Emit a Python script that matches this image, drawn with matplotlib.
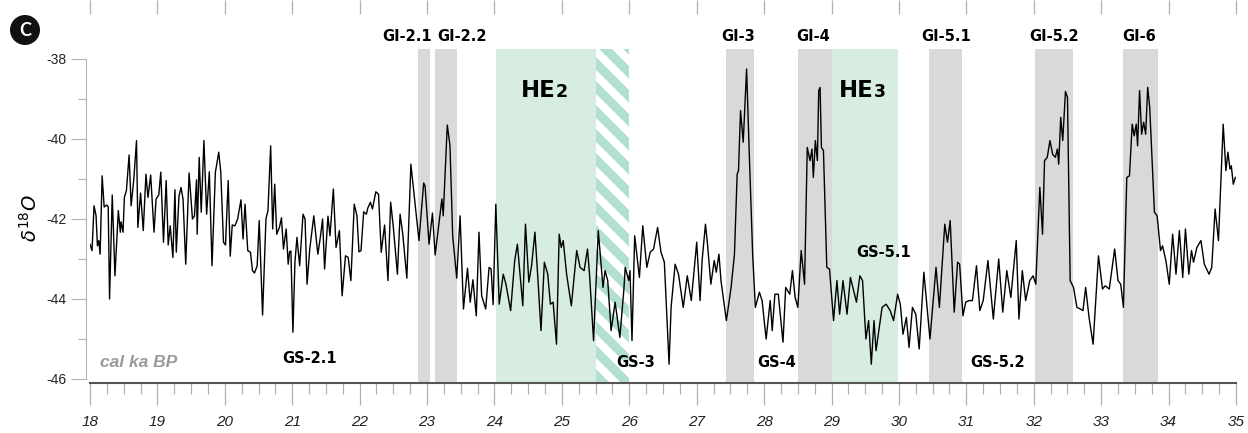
import numpy as np
import matplotlib
matplotlib.use("Agg")
import matplotlib.pyplot as plt
from matplotlib.patches import Rectangle, Circle
from matplotlib.ticker import MultipleLocator
from matplotlib.transforms import IdentityTransform

plt.rcParams["axes.unicode_minus"] = False

# age (cal ka BP) and d18O
age_ka = [
    18.00, 18.03, 18.06, 18.09, 18.11, 18.13, 18.15, 18.18, 18.21, 18.25,
    18.27, 18.29, 18.33, 18.37, 18.42, 18.45, 18.46, 18.49, 18.51, 18.54,
    18.58, 18.61, 18.65, 18.69, 18.71, 18.75, 18.79, 18.83, 18.86, 18.90,
    18.95, 18.98, 19.02, 19.05, 19.09, 19.13, 19.16, 19.19, 19.23, 19.26,
    19.28, 19.32, 19.35, 19.38, 19.42, 19.47, 19.52, 19.55, 19.58, 19.59,
    19.62, 19.65, 19.69, 19.73, 19.77, 19.81, 19.86, 19.91, 19.94, 19.98,
    20.01, 20.05, 20.08, 20.11, 20.15, 20.19, 20.24, 20.27, 20.30, 20.34,
    20.38, 20.41, 20.44, 20.48, 20.51, 20.56, 20.61, 20.64, 20.68, 20.71,
    20.74, 20.77, 20.81, 20.84, 20.87, 20.91, 20.94, 20.96, 20.98, 21.01,
    21.04, 21.07, 21.11, 21.16, 21.19, 21.22, 21.26, 21.32, 21.38, 21.42,
    21.45, 21.48, 21.53, 21.56, 21.61, 21.65, 21.70, 21.74, 21.79, 21.83,
    21.87, 21.92, 21.96, 21.99, 22.02, 22.06, 22.10, 22.12, 22.16, 22.19,
    22.24, 22.28, 22.32, 22.37, 22.42, 22.46, 22.50, 22.56, 22.60, 22.64,
    22.70, 22.76, 22.82, 22.88, 22.95, 22.97, 23.03, 23.08, 23.12, 23.22,
    23.24, 23.30, 23.34, 23.38, 23.44, 23.49, 23.54, 23.60, 23.64, 23.68,
    23.73, 23.77, 23.81, 23.87, 23.92, 23.95, 23.98, 24.02, 24.07, 24.13,
    24.17, 24.24, 24.30, 24.34, 24.37, 24.42, 24.46, 24.51, 24.55, 24.60,
    24.64, 24.69, 24.74, 24.79, 24.83, 24.87, 24.92, 24.96, 24.99, 25.02,
    25.07, 25.14, 25.22, 25.27, 25.33, 25.38, 25.41, 25.47, 25.54, 25.61,
    25.64, 25.68, 25.73, 25.79, 25.86, 25.92, 25.94, 25.99, 26.01, 26.04,
    26.08, 26.15, 26.20, 26.26, 26.31, 26.36, 26.42, 26.47, 26.52, 26.56,
    26.59, 26.62, 26.68, 26.73, 26.80, 26.86, 26.92, 27.00, 27.05, 27.08,
    27.13, 27.16, 27.21, 27.26, 27.29, 27.33, 27.36, 27.44, 27.51, 27.56,
    27.60, 27.62, 27.65, 27.69, 27.74, 27.78, 27.83, 27.87, 27.93, 27.97,
    28.03, 28.09, 28.12, 28.16, 28.21, 28.28, 28.32, 28.38, 28.42, 28.46,
    28.50, 28.55, 28.60, 28.64, 28.68, 28.71, 28.73, 28.76, 28.79, 28.81,
    28.83, 28.85, 28.88, 28.93, 28.97, 29.03, 29.08, 29.12, 29.17, 29.23,
    29.28, 29.37, 29.42, 29.46, 29.51, 29.55, 29.59, 29.63, 29.66, 29.75,
    29.81, 29.87, 29.92, 29.98, 30.02, 30.06, 30.11, 30.15, 30.20, 30.25,
    30.30, 30.37, 30.46, 30.55, 30.60, 30.68, 30.72, 30.76, 30.82, 30.87,
    30.90, 30.95, 30.99, 31.04, 31.09, 31.15, 31.20, 31.25, 31.32, 31.40,
    31.48, 31.54, 31.60, 31.66, 31.74, 31.78, 31.83, 31.88, 31.94, 31.99,
    32.03, 32.09, 32.13, 32.16, 32.20, 32.24, 32.28, 32.32, 32.35, 32.37,
    32.40, 32.43, 32.47, 32.50, 32.54, 32.59, 32.64, 32.69, 32.73, 32.77,
    32.82, 32.88, 32.96, 33.02, 33.06, 33.12, 33.20, 33.25, 33.29, 33.33,
    33.38, 33.42, 33.46, 33.49, 33.52, 33.54, 33.57, 33.60, 33.63, 33.66,
    33.69, 33.72, 33.79, 33.83, 33.88, 33.91, 33.96, 34.01, 34.06, 34.11,
    34.16, 34.21, 34.25, 34.30, 34.34, 34.37, 34.42, 34.48, 34.53, 34.60,
    34.64, 34.69, 34.74, 34.81, 34.85, 34.88, 34.91, 34.93, 34.96, 34.99,
]
d18o = [
    -42.63, -42.79, -41.67, -41.92, -42.67, -42.54, -42.88, -40.92, -41.70, -41.65,
    -41.70, -44.00, -41.40, -43.42, -41.79, -42.33, -42.07, -42.33, -41.46, -41.29,
    -40.40, -41.67, -41.00, -40.04, -42.21, -41.35, -42.29, -40.88, -41.46, -40.90,
    -42.33, -41.50, -41.40, -40.83, -42.58, -41.04, -42.65, -42.17, -42.96, -41.27,
    -42.83, -41.43, -41.21, -41.50, -43.13, -40.85, -42.00, -41.92, -41.02, -42.38,
    -40.46, -41.83, -40.04, -41.88, -40.82, -43.17, -40.83, -40.33, -40.83, -42.58,
    -42.65, -41.04, -42.93, -42.15, -42.17, -42.00, -41.52, -42.50, -41.63, -42.79,
    -42.83, -43.29, -43.35, -43.17, -42.04, -44.40, -42.00, -41.79, -40.17, -42.25,
    -41.13, -42.38, -42.21, -41.97, -42.75, -42.25, -43.13, -42.82, -42.80, -44.83,
    -43.08, -42.46, -43.17, -41.88, -42.00, -43.63, -42.75, -41.92, -42.88, -42.42,
    -42.00, -43.25, -41.93, -42.42, -41.25, -42.71, -42.29, -43.92, -42.92, -42.96,
    -43.54, -41.63, -41.92, -42.82, -42.79, -41.82, -41.88, -41.73, -41.58, -41.75,
    -41.32, -41.38, -42.83, -42.15, -43.54, -41.58, -42.21, -43.38, -41.88, -42.38,
    -43.48, -40.63, -41.58, -42.54, -41.10, -41.17, -42.63, -41.85, -42.90, -41.50,
    -41.92, -39.65, -40.17, -42.42, -43.48, -41.92, -44.25, -43.23, -44.08, -43.52,
    -44.42, -42.33, -43.92, -44.25, -43.21, -43.25, -44.14, -41.63, -44.13, -43.38,
    -43.63, -44.29, -43.04, -42.63, -43.21, -44.17, -42.13, -43.58, -43.17, -42.33,
    -43.38, -44.79, -43.08, -43.38, -44.13, -44.08, -45.13, -42.38, -42.71, -42.54,
    -43.38, -44.17, -42.79, -43.21, -43.29, -42.75, -43.38, -45.04, -42.29, -43.71,
    -43.29, -43.54, -44.79, -44.08, -44.96, -43.75, -43.21, -43.54, -43.29, -45.04,
    -42.42, -43.46, -42.17, -43.21, -42.83, -42.75, -42.21, -42.83, -43.08, -44.54,
    -45.63, -44.21, -43.13, -43.38, -44.21, -43.42, -44.04, -42.58, -44.04, -43.04,
    -42.13, -42.63, -43.63, -43.04, -43.33, -42.88, -43.54, -44.54, -43.71, -42.88,
    -40.88, -40.79, -39.29, -40.08, -38.25, -40.38, -42.88, -44.21, -43.83, -44.04,
    -45.00, -44.04, -44.79, -43.88, -43.88, -45.08, -43.71, -43.88, -43.29, -43.96,
    -44.21, -42.79, -43.63, -40.21, -40.54, -40.25, -40.96, -40.04, -40.54, -38.79,
    -38.71, -40.21, -40.29, -43.21, -43.25, -44.54, -43.54, -44.38, -43.54, -44.38,
    -43.46, -44.08, -43.42, -43.54, -45.00, -44.54, -45.63, -44.54, -45.29, -44.21,
    -44.13, -44.29, -44.54, -43.88, -44.13, -44.88, -44.46, -45.21, -44.21, -44.38,
    -45.25, -43.33, -45.00, -43.21, -44.21, -42.13, -42.58, -42.04, -44.33, -43.08,
    -43.13, -44.42, -44.08, -44.04, -44.04, -43.17, -44.29, -44.04, -43.04, -44.50,
    -43.00, -44.33, -43.29, -43.96, -42.54, -44.50, -43.29, -44.04, -43.54, -43.42,
    -43.63, -41.21, -42.38, -40.54, -40.46, -40.04, -40.38, -40.46, -40.25, -40.63,
    -39.46, -40.04, -38.81, -38.96, -43.54, -43.71, -44.21, -44.25, -44.29, -43.71,
    -44.46, -45.13, -42.92, -43.75, -43.67, -43.75, -42.75, -43.54, -43.63, -44.21,
    -40.96, -40.92, -39.63, -39.92, -39.63, -40.17, -38.79, -39.88, -39.58, -39.88,
    -38.71, -39.21, -41.83, -41.92, -42.79, -42.67, -43.04, -43.63, -42.38, -43.38,
    -42.29, -43.46, -42.25, -43.38, -42.79, -43.08, -42.71, -42.54, -43.13, -43.38,
    -43.21, -41.75, -42.54, -39.63, -40.79, -40.33, -40.75, -40.67, -41.13, -40.96,
]

# Greenland interstadials (grey bands)
gi_names = ["GI-2.1", "GI-2.2", "GI-3", "GI-4", "GI-5.1", "GI-5.2", "GI-6"]
gi_start = [22.86, 23.12, 27.43, 28.50, 30.45, 32.02, 33.33]
gi_end = [23.04, 23.45, 27.85, 29.00, 30.93, 32.58, 33.84]
gi_label_x = [22.70, 23.52, 27.61, 28.73, 30.70, 32.30, 33.56]

# Heinrich events (green bands), HE2 with an uncertain (hatched) tail
he_names = ["2", "3"]
he_start = [24.02, 29.00]
he_end = [25.50, 29.98]
he_label_x = [24.91, 29.63]
he2_tail = (25.50, 26.00)

# stadials
gs_names = ["GS-2.1", "GS-3", "GS-4", "GS-5.1", "GS-5.2"]
gs_x = [21.26, 26.10, 28.18, 29.78, 31.47]
gs_y = [-45.48, -45.60, -45.60, -42.83, -45.60]

GREY = "#d9d8da"
GREEN = "#d7ede2"
STRIPE = "#b2e0ce"
LABEL_FONT = ["DejaVu Sans"]
MARK_FONT = ["Lato", "DejaVu Sans"]

W, H = 1248, 433
fig = plt.figure(figsize=(W / 100, H / 100), dpi=100)
ax = fig.add_axes([90 / W, 50 / H, 1146 / W, 334 / H])

ylo, yhi = -46.1, -37.75
ax.set_xlim(18, 35)
ax.set_ylim(ylo, yhi)

for s, e in zip(gi_start, gi_end):
    ax.axvspan(s, e, color=GREY, lw=0, zorder=0)
for s, e in zip(he_start, he_end):
    ax.axvspan(s, e, color=GREEN, lw=0, zorder=0)

# hatched tail of HE2, stripes drawn in pixel space
fig.canvas.draw()
rect = Rectangle((he2_tail[0], ylo), he2_tail[1] - he2_tail[0], yhi - ylo,
                 facecolor="none", edgecolor="none", transform=ax.transData)
ax.add_patch(rect)
(x0, y0), (x1, y1) = ax.transData.transform([(he2_tail[0], ylo), (he2_tail[1], yhi)])
step = 24
for c in np.arange(x0 + y0 - 40, x1 + y1 + 40, step):
    xs = np.array([x0 - 5, x1 + 5])
    ln, = ax.plot(xs, c - xs, color=STRIPE, lw=6.5, solid_capstyle="butt",
                  transform=IdentityTransform(), zorder=0.5)
    ln.set_clip_path(rect)

ax.plot(age_ka, d18o, color="black", lw=1.0, zorder=3)

# axes styling
for side in ["top", "right"]:
    ax.spines[side].set_visible(False)
ax.spines["left"].set_position(("outward", 3))
ax.spines["left"].set_bounds(-46, -38)
ax.spines["left"].set_color("#b5b5b5")
ax.spines["left"].set_linewidth(0.8)
ax.spines["bottom"].set_color("#555555")
ax.spines["bottom"].set_linewidth(1.5)

ax.xaxis.set_major_locator(MultipleLocator(1))
ax.xaxis.set_minor_locator(MultipleLocator(0.25))
ax.yaxis.set_minor_locator(MultipleLocator(1))
ax.set_yticks([-46, -44, -42, -40, -38])
ax.tick_params(axis="x", which="major", length=16, width=0.9, color="#b0b0b0",
               pad=7, labelsize=11, labelcolor="#222222")
ax.tick_params(axis="x", which="minor", length=8, width=0.9, color="#b0b0b0")
ax.tick_params(axis="y", which="major", length=11, width=0.8, color="#b5b5b5",
               pad=3, labelsize=10, labelcolor="#222222")
ax.tick_params(axis="y", which="minor", length=6, width=0.8, color="#b5b5b5")
for lab in ax.get_xticklabels():
    lab.set_fontstyle("italic")
    lab.set_fontfamily("Liberation Sans")
for lab in ax.get_yticklabels():
    lab.set_fontfamily("Liberation Sans")

# labels
for name, x in zip(gi_names, gi_label_x):
    ax.text(x, -37.45, name, ha="center", va="center", fontsize=10.5,
            fontweight="bold", family=LABEL_FONT, clip_on=False)
for name, x in zip(he_names, he_label_x):
    ax.text(x, -38.95, "HE", ha="right", va="baseline", fontsize=16.5,
            fontweight="bold", family=LABEL_FONT, zorder=4)
    ax.text(x, -38.95, name, ha="left", va="baseline", fontsize=12.5,
            fontweight="bold", family=LABEL_FONT, zorder=4)
for name, x, y in zip(gs_names, gs_x, gs_y):
    ax.text(x, y, name, ha="center", va="center", fontsize=10.5,
            fontweight="bold", family=LABEL_FONT, zorder=4)
ax.text(18.15, -45.58, "cal ka BP", ha="left", va="center", fontsize=12.5,
        fontweight="bold", fontstyle="italic", color="#9a9a9a",
        family="Liberation Sans")

fig.text(30 / W, 1 - 218 / H, r"$\delta^{18}O$", rotation=90, ha="center",
         va="center", fontsize=14)

# panel marker
fig.patches.append(Circle((25, H - 30), 15, transform=IdentityTransform(),
                          facecolor="#111111", edgecolor="none"))
fig.text(25 / W, 1 - 30 / H, "C", ha="center", va="center", color="white",
         fontsize=13, fontweight="bold", family=MARK_FONT)

# tick stubs of the panel above
ax_top = fig.add_axes([90 / W, 1 - 14 / H, 1146 / W, 14 / H])
ax_top.set_xlim(18, 35)
ax_top.patch.set_visible(False)
for sp in ax_top.spines.values():
    sp.set_visible(False)
ax_top.set_yticks([])
ax_top.xaxis.set_major_locator(MultipleLocator(1))
ax_top.tick_params(axis="x", top=True, bottom=False, labelbottom=False,
                   direction="in", length=10, width=0.9, color="#b0b0b0")

fig.savefig("out.png", dpi=100)
